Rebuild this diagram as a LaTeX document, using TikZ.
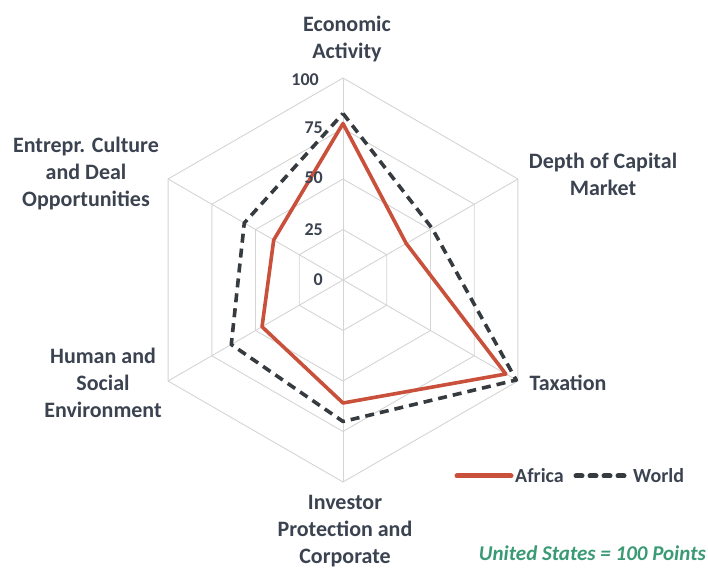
\documentclass[tikz,border=0pt]{standalone}
\usepackage{fontspec}
\setmainfont{Carlito}
\usetikzlibrary{calc}
\definecolor{txt}{HTML}{3B4350}
\definecolor{gridc}{HTML}{D4D4D4}
\definecolor{africa}{HTML}{C9503A}
\definecolor{world}{HTML}{363B40}
\definecolor{note}{HTML}{3A9A74}
\tikzset{
  gridline/.style={draw=gridc, line width=0.9pt},
  axislabel/.style={text=txt, font=\fontsize{22}{27}\selectfont\bfseries, align=center, inner sep=0pt},
  ticklabel/.style={text=txt, font=\fontsize{18}{18}\selectfont\bfseries, anchor=east, inner sep=0pt},
  africaline/.style={draw=africa, line width=3.6pt, line join=round, line cap=round},
  worldline/.style={draw=world, line width=3.6pt, dash pattern=on 9pt off 6pt, line join=round},
  legendtext/.style={text=txt, font=\fontsize{20}{20}\selectfont\bfseries, anchor=west, inner sep=0pt}
}
\begin{document}
\begin{tikzpicture}[x=1pt,y=1pt]
\useasboundingbox (0,0) rectangle (708,572);
\coordinate (O) at (343,292);
% grid rings
\foreach \r in {50.5,101,151.5,202}{
  \draw[gridline] ($(O)+(90:\r)$) -- ($(O)+(30:\r)$) -- ($(O)+(-30:\r)$) -- ($(O)+(-90:\r)$) -- ($(O)+(-150:\r)$) -- ($(O)+(150:\r)$) -- cycle;
}
% spokes
\foreach \a/\n in {90/S1,30/S2,-30/S3,-90/S4,-150/S5,150/S6}{
  \coordinate (\n) at ($(O)+(\a:202)$);
  \draw[gridline] (O) -- (\n);
}
% data coordinates (radius = value * 2.02)
\coordinate (A1) at ($(O)+(90:156.5)$);
\coordinate (A2) at ($(O)+(30:73)$);
\coordinate (A3) at ($(O)+(-30:188)$);
\coordinate (A4) at ($(O)+(-90:123)$);
\coordinate (A5) at ($(O)+(-150:93.5)$);
\coordinate (A6) at ($(O)+(150:80)$);
\coordinate (W1) at ($(O)+(90:166.5)$);
\coordinate (W2) at ($(O)+(30:103)$);
\coordinate (W3) at ($(O)+(-30:200)$);
\coordinate (W4) at ($(O)+(-90:141.5)$);
\coordinate (W5) at ($(O)+(-150:129)$);
\coordinate (W6) at ($(O)+(150:114)$);
\draw[africaline] (A1) -- (A2) -- (A3) -- (A4) -- (A5) -- (A6) -- cycle;
\draw[worldline] (W1) -- (W2) -- (W3) -- (W4) -- (W5) -- (W6) -- cycle;
% tick labels
\node[ticklabel] (t100) at (319,492) {100};
\node[ticklabel] (t75) at (323,444) {75};
\node[ticklabel] (t50) at (323,394) {50};
\node[ticklabel] (t25) at (323,342) {25};
\node[ticklabel] (t0) at (323,292) {0};
% axis labels
\node[axislabel] (L1) at (347,533) {Economic\\Activity};
\node[axislabel] (L2) at (603,398) {Depth of Capital\\Market};
\node[axislabel] (L3) at (568,189) {Taxation};
\node[axislabel] (L4) at (345,41) {Investor\\Protection and\\Corporate};
\node[axislabel] (L5) at (103,189) {Human and\\Social\\Environment};
\node[axislabel] (L6) at (86,398) {Entrepr. Culture\\and Deal\\Opportunities};
% legend
\coordinate (la1) at (457,96);
\coordinate (la2) at (511,96);
\coordinate (lw1) at (576,96);
\coordinate (lw2) at (628,96);
\draw[africaline, line width=5pt] (la1) -- (la2);
\node[legendtext] (lga) at (515,96) {Africa};
\draw[worldline, line width=5pt, line cap=round, dash pattern=on 6pt off 8pt] (lw1) -- (lw2);
\node[legendtext] (lgw) at (633,96) {World};
% note
\node[text=note, font=\fontsize{21}{21}\selectfont\bfseries\itshape, anchor=east, inner sep=0pt] (nt) at (706,19) {United States = 100 Points};
\end{tikzpicture}
\end{document}
